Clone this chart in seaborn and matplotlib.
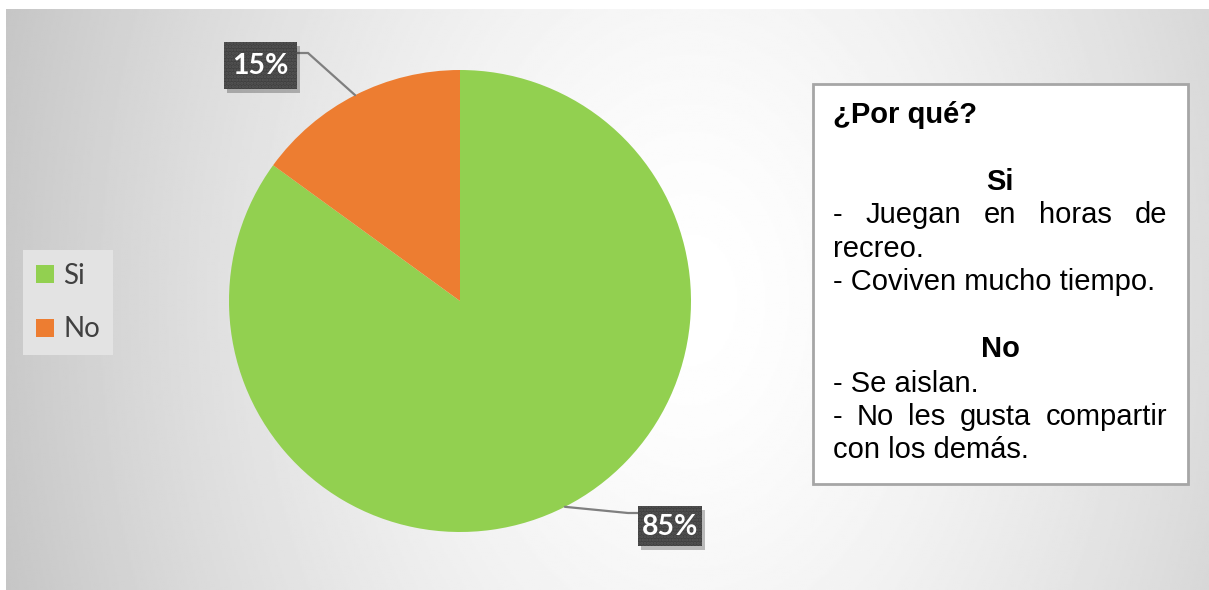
import numpy as np
import matplotlib
matplotlib.use("Agg")
import matplotlib.pyplot as plt
import seaborn as sns
from matplotlib.patches import Rectangle
from matplotlib.lines import Line2D

# ---------------- data ----------------
categories = ["Si", "No"]
values = [85, 15]
colors = ["#92D050", "#ED7D31"]

box_title = "¿Por qué?"
si_head = "Si"
si_lines = ["- Juegan en horas de", "recreo.", "- Coviven mucho tiempo."]
no_head = "No"
no_lines = ["- Se aislan.", "- No les gusta compartir", "con los demás."]
justified = {"- Juegan en horas de", "- No les gusta compartir"}

# ---------------- style ----------------
sns.set_theme(style="white")
plt.rcParams['font.family'] = ['Lato', 'DejaVu Sans']
plt.rcParams['hatch.linewidth'] = 1.5

W, H = 1209, 590
fig = plt.figure(figsize=(W / 100, H / 100), dpi=100)
fig.patch.set_facecolor('white')

# background radial gradient
bg = fig.add_axes([0, 0, 1, 1], zorder=0)
xx, yy = np.meshgrid(np.linspace(6, W, 600), np.linspace(9, H, 300))
d = np.sqrt(((xx - 690) / 640) ** 2 + ((yy - 300) / 900) ** 2)
v = np.clip(1 - 0.19 * d ** 1.5, 0, 1)
bg.imshow(v, cmap='gray', vmin=0, vmax=1, extent=[6, W, H, 9],
          aspect='auto', interpolation='bilinear')
bg.set_xlim(0, W)
bg.set_ylim(H, 0)
bg.axis('off')

# pie
cx, cy, R = 460, 301, 231
ax = fig.add_axes([(cx - R) / W, (H - cy - R) / H, 2 * R / W, 2 * R / H], zorder=1)
wedges, _ = ax.pie(values, colors=colors, startangle=90, counterclock=False,
                   radius=1, wedgeprops=dict(linewidth=0))
ax.set_xlim(-1, 1)
ax.set_ylim(-1, 1)
ax.set_aspect('equal')
ax.axis('off')

# overlay in pixel coordinates
ov = fig.add_axes([0, 0, 1, 1], zorder=2)
ov.set_xlim(0, W)
ov.set_ylim(H, 0)
ov.axis('off')
ov.patch.set_alpha(0)

# data label layout (pixels): box rect, elbow point, line attach point
label_boxes = [(638, 506, 64, 40), (224, 42, 73, 47)]
label_elbows = [(628, 513), (308, 53)]
label_attach = [(638, 513), (297, 53)]

total = sum(values)
for w, val, (bx, by, bw, bh), (ex, ey), (axx, ayy) in zip(
        wedges, values, label_boxes, label_elbows, label_attach):
    ang = np.deg2rad((w.theta1 + w.theta2) / 2)
    px, py = cx + R * np.cos(ang), cy - R * np.sin(ang)
    ov.plot([px, ex, axx], [py, ey, ayy], color='#7f7f7f', lw=1.6, zorder=3,
            solid_joinstyle='miter')
    ov.add_patch(Rectangle((bx + 3, by + 4), bw, bh, facecolor='#000000',
                           alpha=0.25, lw=0, zorder=3))
    ov.add_patch(Rectangle((bx, by), bw, bh, facecolor='#404040',
                           edgecolor='#565656', lw=0, hatch='.....', zorder=4))
    ov.text(bx + bw / 2, by + bh / 2 + 1, f"{val / total * 100:.0f}%",
            ha='center', va='center', color='white', fontsize=20.5,
            fontweight='bold', zorder=5)

# legend
handles = [Line2D([], [], marker='s', linestyle='none', markersize=12.3,
                  markerfacecolor=w.get_facecolor(), markeredgewidth=0)
           for w in wedges]
leg = ov.legend(handles, categories, loc='center left',
                bbox_to_anchor=(23 / W, 1 - 302.5 / H),
                bbox_transform=fig.transFigure, frameon=True,
                facecolor='#e3e3e3', edgecolor='none', fancybox=False,
                framealpha=1, fontsize=20, labelspacing=1.0,
                handlelength=0.68, handletextpad=0.33, borderpad=0.45,
                borderaxespad=0, labelcolor='#404040')
leg.get_frame().set_linewidth(0)

# explanation text box
ov.add_patch(Rectangle((813, 84), 375, 400, facecolor='white',
                       edgecolor='#a6a6a6', lw=2, zorder=3))
renderer = fig.canvas.get_renderer()
tfont = dict(family=['Liberation Sans', 'DejaVu Sans'], fontsize=21,
             color='black', zorder=5)
left, right = 833, 1167


def put_line(text, y):
    if text in justified:
        words = text.split(' ')
        objs = [ov.text(0, y, wd, va='baseline', ha='left', **tfont) for wd in words]
        widths = [o.get_window_extent(renderer).width for o in objs]
        gap = (right - left - sum(widths)) / (len(words) - 1)
        x = left
        for o, wdt in zip(objs, widths):
            o.set_x(x)
            x += wdt + gap
    else:
        ov.text(left, y, text, va='baseline', ha='left', **tfont)


ov.text(left, 123, box_title, va='baseline', ha='left', fontweight='bold', **tfont)
ov.text(1000, 190, si_head, va='baseline', ha='center', fontweight='bold', **tfont)
for t, y in zip(si_lines, [223, 257, 290]):
    put_line(t, y)
ov.text(1000, 357, no_head, va='baseline', ha='center', fontweight='bold', **tfont)
for t, y in zip(no_lines, [392, 425, 458]):
    put_line(t, y)

fig.savefig('out.png', dpi=100, facecolor='white')
